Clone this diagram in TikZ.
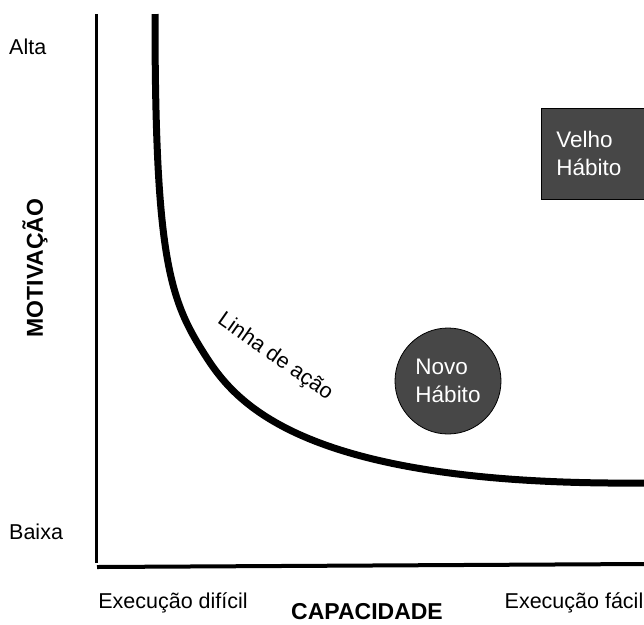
\documentclass[tikz,border=0pt]{standalone}
\usepackage{fontspec}
\setmainfont{Liberation Sans}

\begin{document}
\begin{tikzpicture}[x=1pt,y=-1pt,
        habit/.style={fill=black!72,draw=black,thick,text=white,align=left,font=\fontsize{22.5}{28}\selectfont},
        lbl/.style={inner sep=0pt,font=\fontsize{21.5}{25}\selectfont},
        axislbl/.style={inner sep=0pt,font=\fontsize{23}{27}\selectfont\bfseries}]
        \useasboundingbox (0,0) rectangle (644,624);

        % Axes
        \draw[line width=3pt] (96,14) -- (96,563); % Motivation axis
        \draw[line width=4pt] (97,567) -- (644,564); % Ability axis

        % Action line
        \draw[line width=7pt] (155,14) .. controls (155,260) and (170,300) .. (205,355) % steep part
                .. controls (235,402) and (300,486) .. (644,483); % flat part
        \node (linha) [lbl,rotate=-35] at (275,357) {Linha de ação};

        % Habits
        \node (velho) [habit,rectangle,anchor=north west,text width=80pt,inner xsep=15pt,minimum height=91pt] at (541,108) {Velho\\Hábito};
        \node (novo) [habit,circle,minimum size=106pt,inner sep=0pt] at (448,381) {Novo\\Hábito};

        % Labels
        \node (alta) [lbl,anchor=west] at (9,47) {Alta};
        \node (baixa) [lbl,anchor=west] at (9,532) {Baixa};
        \node (motiv) [axislbl,rotate=90] at (35,268) {MOTIVAÇÃO};
        \node (dificil) [lbl] at (173,603) {Execução difícil};
        \node (capac) [axislbl] at (367,612) {CAPACIDADE};
        \node (facil) [lbl] at (574,603) {Execução fácil};
\end{tikzpicture}
\end{document}
